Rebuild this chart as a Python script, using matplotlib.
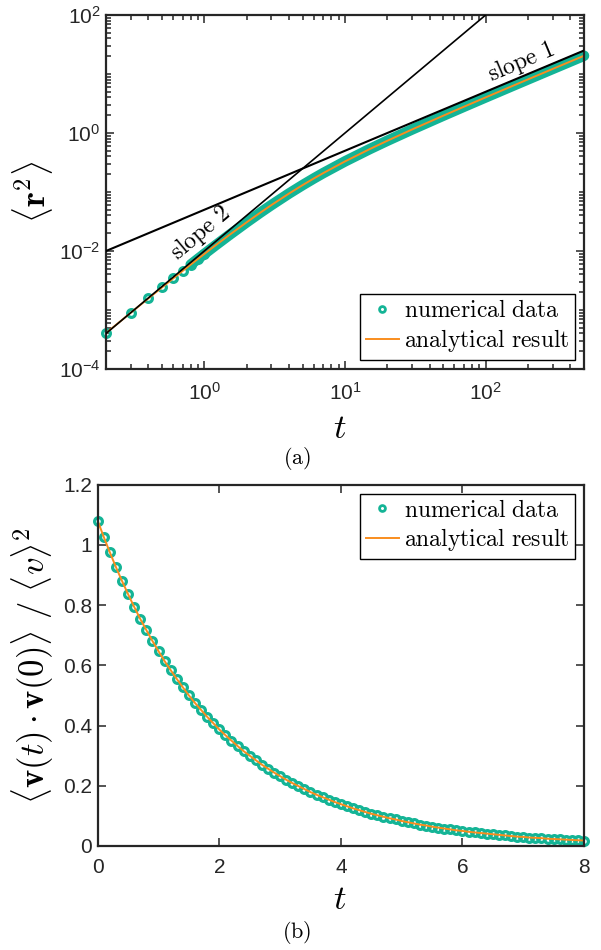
import numpy as np
import matplotlib
matplotlib.use('Agg')
import matplotlib.pyplot as plt
from matplotlib.ticker import (LogLocator, NullFormatter, FixedLocator,
                               LogFormatterSciNotation)
from matplotlib.lines import Line2D

plt.rcParams['font.family'] = ['Liberation Sans', 'DejaVu Sans']
plt.rcParams['mathtext.fontset'] = 'cm'

TEAL = '#14B496'
ORANGE = '#F98D1E'
DARK = '#262626'

# (a) mean squared displacement
t_msd = [0.2, 0.3, 0.4, 0.5, 0.6, 0.7, 0.8, 0.9, 1.0, 1.2, 1.5, 2, 2.5, 3, 4, 5,
         6, 7, 10, 15, 20, 30, 50, 70, 100, 150, 200, 300, 500]
msd = [4.06e-4, 8.98e-4, 1.571e-3, 2.414e-3, 3.423e-3, 4.583e-3, 5.890e-3,
       7.336e-3, 8.915e-3, 0.01244, 0.01857, 0.03068, 0.04468, 0.06014, 0.09422,
       0.13105, 0.16953, 0.2090, 0.3301, 0.5344, 0.7392, 1.1487, 1.9677, 2.7866,
       4.0152, 6.0627, 8.1102, 12.205, 20.395]
n_sparse = 9      # markers still separate up to t = 1
band_from = 6     # from t = 0.8 on the markers merge into a band

# guide lines
t_slope2 = [0.2, 100]
r2_slope2 = [4e-4, 100]
t_slope1 = [0.2, 500]
r2_slope1 = [0.01, 25]

# (b) velocity autocorrelation, samples every 0.1
t_vacf = np.linspace(0, 8, 81)
vacf = [1.080, 1.026, 0.975, 0.926, 0.880, 0.836, 0.794, 0.754, 0.717, 0.681,
        0.647, 0.614, 0.584, 0.555, 0.527, 0.500, 0.475, 0.452, 0.429, 0.408,
        0.387, 0.368, 0.350, 0.332, 0.315, 0.300, 0.285, 0.270, 0.257, 0.244,
        0.232, 0.220, 0.209, 0.199, 0.189, 0.179, 0.170, 0.162, 0.154, 0.146,
        0.139, 0.132, 0.125, 0.119, 0.113, 0.107, 0.102, 0.097, 0.092, 0.088,
        0.083, 0.079, 0.075, 0.071, 0.068, 0.064, 0.061, 0.058, 0.055, 0.052,
        0.050, 0.047, 0.045, 0.043, 0.041, 0.039, 0.037, 0.035, 0.033, 0.031,
        0.030, 0.028, 0.027, 0.026, 0.024, 0.023, 0.022, 0.021, 0.020, 0.019,
        0.018]

lbl_num = r'$\mathrm{numerical\ data}$'
lbl_ana = r'$\mathrm{analytical\ result}$'

mk = dict(marker='o', ms=5.6, mew=2.3, mfc='none', mec=TEAL, ls='none')
mk_leg = dict(marker='o', ms=4.2, mew=2.0, mfc='none', mec=TEAL, ls='none')

fig = plt.figure(figsize=(6.01, 9.5), dpi=100)
ax1 = fig.add_axes([0.1764, 0.6116, 0.7953, 0.3726])
ax2 = fig.add_axes([0.1626, 0.1095, 0.8092, 0.3803])

# ---- top panel
ax1.plot(t_msd[band_from:], msd[band_from:], color=TEAL, lw=7.6,
         solid_capstyle='round', clip_on=False)
ax1.plot(t_msd[:n_sparse], msd[:n_sparse], clip_on=False, **mk)
ax1.plot(t_msd, msd, color=ORANGE, lw=1.4)
ax1.plot(t_slope2, r2_slope2, color='k', lw=1.2, zorder=5)
ax1.plot(t_slope1, r2_slope1, color='k', lw=1.5, zorder=5)
ax1.set_xscale('log')
ax1.set_yscale('log')
ax1.set_xlim(0.2, 500)
ax1.set_ylim(1e-4, 1e2)
ax1.yaxis.set_major_locator(FixedLocator([1e-4, 1e-2, 1, 1e2]))
ax1.yaxis.set_minor_locator(LogLocator(base=10, subs=np.arange(1, 10), numticks=20))
ax1.xaxis.set_major_locator(FixedLocator([1, 10, 100]))
ax1.xaxis.set_minor_locator(LogLocator(base=10, subs=np.arange(1, 10), numticks=20))
ax1.yaxis.set_minor_formatter(NullFormatter())
ax1.xaxis.set_minor_formatter(NullFormatter())
ax1.xaxis.set_major_formatter(LogFormatterSciNotation())
ax1.yaxis.set_major_formatter(LogFormatterSciNotation())

ax1.text(0.93, 0.02, r'$\mathrm{slope\ 2}$', fontsize=17, rotation=40,
         ha='center', va='center')
ax1.text(180, 16, r'$\mathrm{slope\ 1}$', fontsize=17, rotation=22.8,
         ha='center', va='center')
ax1.text(0.49, -0.167, r'$t$', transform=ax1.transAxes, fontsize=25,
         ha='center', va='center')
ax1.text(-0.153, 0.5, r'$\langle \mathbf{r}^2 \rangle$', transform=ax1.transAxes,
         fontsize=25, rotation=90, ha='center', va='center')

# ---- bottom panel
ax2.plot(t_vacf, vacf, clip_on=False, **mk)
ax2.plot(t_vacf, vacf, color=ORANGE, lw=1.4)
ax2.set_xlim(0, 8)
ax2.set_ylim(0, 1.2)
ax2.set_xticks([0, 2, 4, 6, 8])
ax2.set_yticks([0, 0.2, 0.4, 0.6, 0.8, 1.0, 1.2])
ax2.set_yticklabels(['0', '0.2', '0.4', '0.6', '0.8', '1', '1.2'])
ax2.text(0.498, -0.147, r'$t$', transform=ax2.transAxes, fontsize=25,
         ha='center', va='center')
ax2.text(-0.133, 0.5,
         r'$\langle \mathbf{v}(t) \cdot \mathbf{v}(0) \rangle\ /\ \langle v \rangle^2$',
         transform=ax2.transAxes, fontsize=25, rotation=90, ha='center', va='center')

handles = [Line2D([], [], **mk_leg), Line2D([], [], color=ORANGE, lw=1.4)]
for ax, loc in ((ax1, 'lower right'), (ax2, 'upper right')):
    for s in ax.spines.values():
        s.set_linewidth(1.6)
        s.set_color(DARK)
    ax.tick_params(which='both', direction='in', top=True, right=True,
                   color=DARK, labelcolor=DARK, labelsize=15, width=1.1)
    ax.tick_params(axis='x', which='both', pad=9)
    ax.tick_params(axis='y', which='both', pad=4)
    ax.tick_params(which='major', length=6)
    ax.tick_params(which='minor', length=3.5)
    leg = ax.legend(handles, [lbl_num, lbl_ana], loc=loc, fontsize=17,
                    frameon=True, fancybox=False, framealpha=1,
                    edgecolor='k', borderaxespad=0.38, borderpad=0.25,
                    handlelength=1.4, handletextpad=0.2, labelspacing=0.2)
    leg.get_frame().set_linewidth(1.0)

fig.text(0.494, 0.517, r'$\mathrm{(a)}$', fontsize=16, ha='center', va='center')
fig.text(0.494, 0.018, r'$\mathrm{(b)}$', fontsize=16, ha='center', va='center')

fig.savefig('out.png', dpi=100)
